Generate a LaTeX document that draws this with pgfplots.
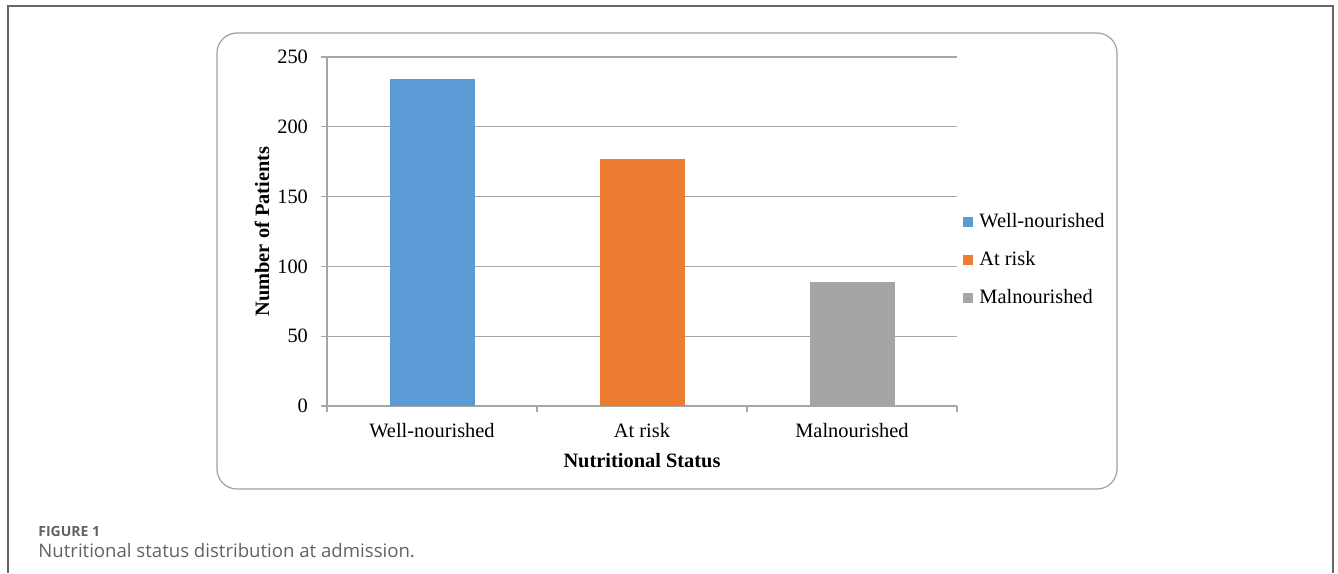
\documentclass[border=0pt]{standalone}
\usepackage{pgfplots}
\pgfplotsset{compat=1.18}
\usepackage{fontspec}
\setmainfont{Liberation Serif}
\newfontfamily\serf{Liberation Serif}
\newfontfamily\capfont{Open Sans}
\definecolor{cblue}{HTML}{5B9BD5}
\definecolor{corange}{HTML}{ED7D31}
\definecolor{cgray}{HTML}{A5A5A5}
\definecolor{gridc}{HTML}{A6A6A6}
\definecolor{framec}{HTML}{666666}
\definecolor{boxc}{HTML}{A0A0A0}
\definecolor{captc}{HTML}{5F6368}
\begin{document}
\begin{tikzpicture}
\begin{scope}[x=0.5pt,y=-0.5pt]
\useasboundingbox (0,0) rectangle (1338,573);
\draw[framec, line width=0.8pt] (8,573) -- (8,6) -- (1333,6) -- (1333,573);
\draw[boxc, line width=0.6pt, rounded corners=10pt] (217,33) rectangle (1117,489);
\node[anchor=base west, inner sep=0pt, font=\capfont\fontsize{7}{9}\selectfont\bfseries, text=captc] at (38,536) {FIGURE 1};
\node[anchor=base west, inner sep=0pt, font=\capfont\fontsize{9.3}{11}\selectfont, text=captc] at (38,557) {Nutritional status distribution at admission.};
\end{scope}
\begin{axis}[
  at={(163.5pt,-203pt)}, anchor=south west,
  scale only axis, width=315pt, height=174.5pt,
  xmin=-0.5, xmax=2.5, ymin=0, ymax=250,
  ybar, bar width=42.5pt, bar shift=0pt,
  axis x line*=bottom, axis y line*=left,
  axis line style={draw=gridc, line width=0.6pt, -},
  ytick={0,50,...,250},
  /pgf/number format/assume math mode=true,
  ymajorgrids, major grid style={draw=gridc, line width=0.6pt},
  xtick={-0.5,0.5,1.5,2.5}, xticklabels={},
  extra x ticks={0,1,2},
  extra x tick labels={Well-nourished, At risk, Malnourished},
  extra x tick style={major tick length=0pt, xmajorgrids=false, xticklabel style={yshift=-5pt}},
  tick align=outside, major tick length=3pt,
  tick style={draw=gridc, line width=0.6pt},
  tick label style={font=\serf\fontsize{10.2}{12}\selectfont, text=black},
  yticklabel style={xshift=-3pt},
  label style={font=\serf\fontsize{10.2}{12}\selectfont\bfseries},
  xlabel={Nutritional Status},
  ylabel={Number of Patients},
  xlabel style={at={(axis description cs:0.5,-0.155)}, anchor=center},
  ylabel style={at={(axis description cs:-0.103,0.5)}, anchor=center},
  legend style={at={(axis description cs:1,0.418)}, anchor=west, draw=none, fill=none,
    font=\serf\fontsize{10.2}{12}\selectfont, row sep=8pt,
    nodes={text height=7pt, text depth=2pt, inner sep=1pt},
    /tikz/every odd column/.append style={column sep=2pt}},
  legend cell align=left,
  legend image code/.code={\fill[#1, draw=none] (0pt,-2.5pt) rectangle (5pt,2.5pt);},
]
\addplot[fill=cblue, draw=none] coordinates {(0,234)};
\addlegendentry{\serf Well-nourished}
\addplot[fill=corange, draw=none] coordinates {(1,177)};
\addlegendentry{\serf At risk}
\addplot[fill=cgray, draw=none] coordinates {(2,89)};
\addlegendentry{\serf Malnourished}
\end{axis}
\end{tikzpicture}
\end{document}
